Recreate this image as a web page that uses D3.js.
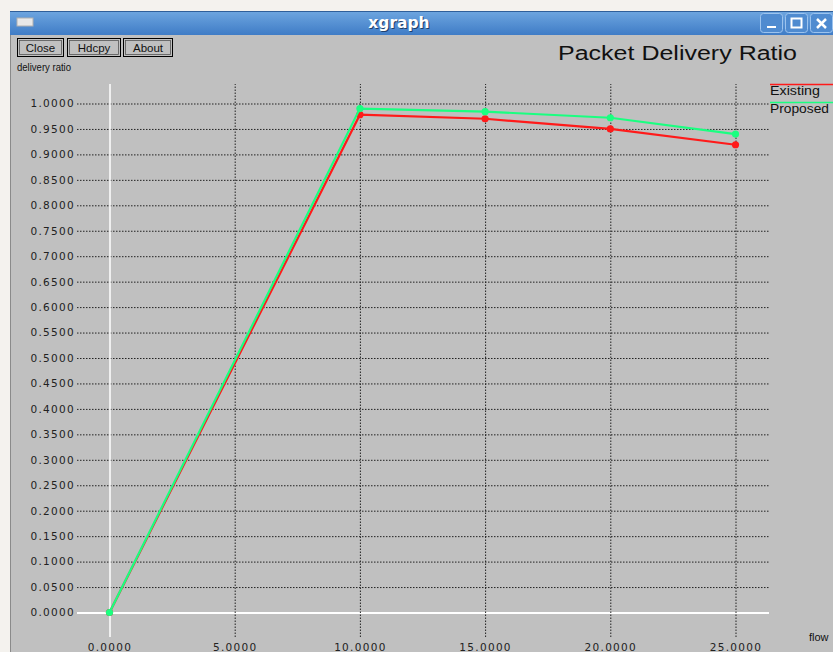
<!DOCTYPE html>
<html><head><meta charset="utf-8">
<script src="https://cdn.jsdelivr.net/npm/d3@7"></script>
<style>html,body{margin:0;padding:0;background:#fff;}svg{display:block;}</style>
</head><body>
<script>
const xValues = [0, 10, 15, 20, 25];
const existing = [0, 0.978, 0.970, 0.950, 0.919];
const proposed = [0, 0.990, 0.984, 0.972, 0.940];
const seriesNames = ["Existing", "Proposed"];
const seriesColors = ["#ff1a1a", "#1aff80"];
const xTicks = [0, 5, 10, 15, 20, 25];
const yTicks = d3.range(0, 21).map(i => i * 0.05);

const W = 833, H = 652;
const svg = d3.select("body").append("svg").attr("width", W).attr("height", H);

// page background & window
svg.append("rect").attr("width", W).attr("height", H).attr("fill", "#f4f2ee");
svg.append("rect").attr("x", 10).attr("y", 11).attr("width", W - 10).attr("height", H - 11).attr("fill", "#c0c0c0");
svg.append("line").attr("x1", 10.5).attr("x2", 10.5).attr("y1", 11).attr("y2", H).attr("stroke", "#8a8a8a");

// title bar
const defs = svg.append("defs");
const grad = defs.append("linearGradient").attr("id", "tb").attr("x1", 0).attr("x2", 0).attr("y1", 0).attr("y2", 1);
grad.append("stop").attr("offset", "0%").attr("stop-color", "#6ea6e0");
grad.append("stop").attr("offset", "100%").attr("stop-color", "#3f7cc6");
svg.append("rect").attr("x", 10).attr("y", 11).attr("width", W - 10).attr("height", 24).attr("fill", "url(#tb)");
svg.append("line").attr("x1", 10).attr("x2", W).attr("y1", 11.5).attr("y2", 11.5).attr("stroke", "#2f5f9a");
svg.append("rect").attr("x", 17).attr("y", 18).attr("width", 16).attr("height", 8).attr("fill", "#e8e8e8").attr("stroke", "#b0b0b0");
svg.append("text").attr("x", 400).attr("y", 29).attr("text-anchor", "middle")
  .attr("font-family", "DejaVu Sans, sans-serif").attr("font-weight", "bold").attr("font-size", 15.5)
  .attr("fill", "#20406a").text("xgraph");
svg.append("text").attr("x", 399).attr("y", 28).attr("text-anchor", "middle")
  .attr("font-family", "DejaVu Sans, sans-serif").attr("font-weight", "bold").attr("font-size", 15.5)
  .attr("fill", "#ffffff").text("xgraph");
// window control buttons
[[760, "min"], [785, "max"], [810, "close"]].forEach(([bx, kind]) => {
  svg.append("rect").attr("x", bx + 0.5).attr("y", 13.5).attr("width", 22).attr("height", 19).attr("rx", 3)
    .attr("fill", "#4f8bd0").attr("stroke", "#9cc3ee");
  if (kind === "min") svg.append("rect").attr("x", bx + 7).attr("y", 26).attr("width", 9).attr("height", 2).attr("fill", "#fff");
  if (kind === "max") svg.append("rect").attr("x", bx + 6.5).attr("y", 18.5).attr("width", 10).attr("height", 9).attr("fill", "none").attr("stroke", "#fff").attr("stroke-width", 2);
  if (kind === "close") {
    svg.append("path").attr("d", `M${bx + 7},19 L${bx + 16},28 M${bx + 16},19 L${bx + 7},28`).attr("stroke", "#fff").attr("stroke-width", 2.5);
  }
});

// xgraph buttons
const btns = [["Close", 17, 46], ["Hdcpy", 67, 53], ["About", 123, 49]];
btns.forEach(([t, bx, bw]) => {
  svg.append("rect").attr("x", bx + 0.5).attr("y", 38.5).attr("width", bw).attr("height", 18)
    .attr("fill", "#c0c0c0").attr("stroke", "#000").attr("stroke-width", 1);
  svg.append("rect").attr("x", bx + 2.5).attr("y", 40.5).attr("width", bw - 4).attr("height", 14)
    .attr("fill", "none").attr("stroke", "#555").attr("stroke-width", 0.8);
  svg.append("text").attr("x", bx + bw / 2 + 0.5).attr("y", 51.5).attr("text-anchor", "middle")
    .attr("font-family", "Liberation Sans, Arial, sans-serif").attr("font-size", 11.5).attr("fill", "#111").text(t);
});
svg.append("text").attr("x", 17).attr("y", 71).attr("font-family", "Liberation Sans, Arial, sans-serif")
  .attr("font-size", 11).attr("textLength", 54).attr("lengthAdjust", "spacingAndGlyphs").attr("fill", "#111").text("delivery ratio");
svg.append("text").attr("x", 558).attr("y", 60).attr("font-family", "Liberation Sans, Arial, sans-serif")
  .attr("font-size", 20).attr("textLength", 239).attr("lengthAdjust", "spacingAndGlyphs").attr("fill", "#111").text("Packet Delivery Ratio");

// scales
const x = d3.scaleLinear().domain([0, 25]).range([109.5, 735.5]);
const y = d3.scaleLinear().domain([0, 1]).range([612.5, 103.5]);
const gridX0 = 77, gridX1 = 769, gridY0 = 84, gridY1 = 637;

// horizontal grid
const yAxis = d3.axisLeft(y).tickValues(yTicks).tickSize(-(gridX1 - gridX0)).tickPadding(2).tickFormat(d3.format(".4f"));
const gy = svg.append("g").attr("transform", `translate(${gridX0},0)`).call(yAxis);
gy.select(".domain").remove();
gy.selectAll(".tick line").attr("stroke", d => d === 0 ? "#ffffff" : "#222")
  .attr("stroke-dasharray", d => d === 0 ? null : "1.5,1.5").attr("stroke-width", d => d === 0 ? 2 : 1);
gy.selectAll(".tick text").attr("font-family", "DejaVu Sans, sans-serif").attr("font-size", 10.5)
  .attr("letter-spacing", "1.3px").attr("fill", "#222");

// vertical grid
const xAxis = d3.axisBottom(x).tickValues(xTicks).tickSize(-(gridY1 - gridY0)).tickPadding(7).tickFormat(d3.format(".4f"));
const gx = svg.append("g").attr("transform", `translate(0,${gridY1})`).call(xAxis);
gx.select(".domain").remove();
gx.selectAll(".tick line").attr("stroke", d => d === 0 ? "#ffffff" : "#222")
  .attr("stroke-dasharray", d => d === 0 ? null : "1.5,1.5").attr("stroke-width", d => d === 0 ? 1.5 : 1);
gx.selectAll(".tick text").attr("font-family", "DejaVu Sans, sans-serif").attr("font-size", 10.5)
  .attr("letter-spacing", "1.3px").attr("fill", "#222");

// series
const series = [existing, proposed];
const line = d3.line().x(d => x(d[0])).y(d => y(d[1]));
series.forEach((vals, i) => {
  const pts = xValues.map((xv, j) => [xv, vals[j]]);
  svg.append("path").datum(pts).attr("d", line).attr("fill", "none")
    .attr("stroke", seriesColors[i]).attr("stroke-width", 2.2);
  svg.selectAll(null).data(pts).enter().append("circle")
    .attr("cx", d => x(d[0])).attr("cy", d => y(d[1])).attr("r", 3.6).attr("fill", seriesColors[i]);
});

// legend
const legendLens = [50, 59];
seriesNames.forEach((n, i) => {
  const ly = 84.5 + i * 18;
  svg.append("line").attr("x1", 770).attr("x2", W).attr("y1", ly).attr("y2", ly)
    .attr("stroke", seriesColors[i]).attr("stroke-width", 1.5);
  svg.append("text").attr("x", 770).attr("y", ly + 10.5).attr("font-family", "Liberation Sans, Arial, sans-serif")
    .attr("font-size", 12).attr("textLength", legendLens[i]).attr("lengthAdjust", "spacingAndGlyphs")
    .attr("fill", "#111").text(n);
});

svg.append("text").attr("x", 809).attr("y", 641).attr("font-family", "Liberation Sans, Arial, sans-serif")
  .attr("font-size", 11).attr("fill", "#111").text("flow");
</script>
</body></html>
